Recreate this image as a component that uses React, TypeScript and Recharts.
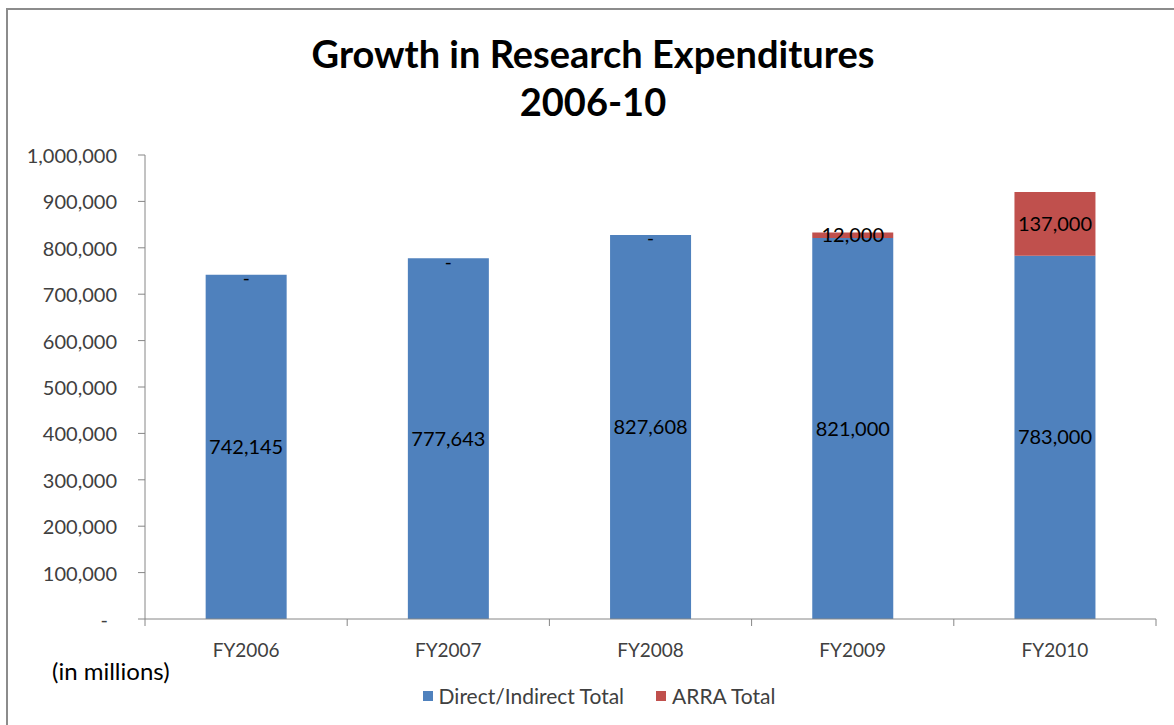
import { BarChart, Bar, XAxis, YAxis, LabelList } from 'recharts';

const years = ['FY2006', 'FY2007', 'FY2008', 'FY2009', 'FY2010'];
const directIndirect = [742145, 777643, 827608, 821000, 783000];
const arra = [0, 0, 0, 12000, 137000];
const yTicks = [0, 100000, 200000, 300000, 400000, 500000, 600000, 700000, 800000, 900000, 1000000];

const data = years.map((year, i) => ({
  year,
  direct: directIndirect[i],
  arra: arra[i],
}));

const FONT = 'Lato, "Open Sans", sans-serif';
const AXIS_COLOR = '#868686';
const TEXT_COLOR = '#404040';
const BAND = (1156 - 145) / years.length;

const fmt = (v: number) => (v === 0 ? '-' : v.toLocaleString('en-US'));

function YTick({ x, y, payload }: any) {
  const v = payload.value as number;
  return (
    <text
      x={v === 0 ? x - 9 : x}
      y={y}
      textAnchor="end"
      dominantBaseline="central"
      fill={TEXT_COLOR}
      fontSize={20}
      fontFamily={FONT}
    >
      {fmt(v)}
    </text>
  );
}

function XTick({ x, y, payload, index }: any) {
  const left = x - BAND / 2;
  const right = x + BAND / 2;
  return (
    <g>
      <line x1={left} y1={y} x2={left} y2={y + 7} stroke={AXIS_COLOR} />
      {index === years.length - 1 && (
        <line x1={right} y1={y} x2={right} y2={y + 7} stroke={AXIS_COLOR} />
      )}
      <text
        x={x}
        y={y + 30}
        textAnchor="middle"
        dominantBaseline="central"
        fill={TEXT_COLOR}
        fontSize={19}
        fontFamily={FONT}
      >
        {payload.value}
      </text>
    </g>
  );
}

// ARRA zero values show as "-" just under the top of the blue bar
function ZeroDash({ x, y, width, value }: any) {
  if (Number(value) !== 0) return null;
  return (
    <text
      x={x + width / 2}
      y={y + 3}
      textAnchor="middle"
      dominantBaseline="central"
      fill="#000"
      fontSize={19}
      fontFamily={FONT}
    >
      -
    </text>
  );
}

export default function App() {
  return (
    <div
      style={{
        position: 'absolute',
        left: 0,
        top: 0,
        width: 1174,
        height: 725,
        background: '#fff',
        fontFamily: FONT,
        overflow: 'hidden',
      }}
    >
      <div
        style={{
          position: 'absolute',
          left: 6,
          top: 8,
          width: 1200,
          height: 740,
          borderLeft: '2px solid #8c8c8c',
          borderTop: '2px solid #8c8c8c',
        }}
      />
      <div
        style={{
          position: 'absolute',
          left: 6,
          top: 29,
          width: 1174,
          textAlign: 'center',
          fontWeight: 700,
          fontSize: 38,
          lineHeight: '48px',
          color: '#000',
        }}
      >
        Growth in Research Expenditures
        <br />
        2006-10
      </div>

      <div style={{ position: 'absolute', left: 0, top: 0 }}>
        <BarChart
          width={1174}
          height={725}
          data={data}
          margin={{ top: 155, right: 18, bottom: 66, left: 0 }}
          barCategoryGap="30%"
        >
          <XAxis
            dataKey="year"
            stroke={AXIS_COLOR}
            tickLine={false}
            tickSize={0}
            tickMargin={0}
            tick={<XTick />}
            interval={0}
            height={40}
          />
          <YAxis
            width={145}
            domain={[0, 1000000]}
            ticks={yTicks}
            stroke={AXIS_COLOR}
            tickSize={7}
            tickMargin={21}
            tick={<YTick />}
            interval={0}
          />
          <Bar dataKey="direct" stackId="a" fill="#4F81BD" isAnimationActive={false}>
            <LabelList
              dataKey="direct"
              position="center"
              formatter={(v: any) => fmt(Number(v))}
              fill="#000"
              fontSize={20}
              fontFamily={FONT}
            />
            <LabelList dataKey="arra" content={<ZeroDash />} />
          </Bar>
          <Bar dataKey="arra" stackId="a" fill="#C0504D" isAnimationActive={false}>
            <LabelList
              dataKey="arra"
              position="center"
              formatter={(v: any) => (Number(v) === 0 ? '' : fmt(Number(v)))}
              fill="#000"
              fontSize={20}
              fontFamily={FONT}
            />
          </Bar>
        </BarChart>
      </div>

      <div
        style={{
          position: 'absolute',
          left: 52,
          top: 656,
          fontSize: 24,
          lineHeight: '30px',
          color: '#000',
        }}
      >
        (in millions)
      </div>

      <div
        style={{
          position: 'absolute',
          left: 0,
          top: 682,
          width: 1174,
          display: 'flex',
          justifyContent: 'center',
          paddingLeft: 24,
          boxSizing: 'border-box',
          fontSize: 21,
          color: TEXT_COLOR,
          lineHeight: '28px',
        }}
      >
        <span style={{ display: 'flex', alignItems: 'center', marginRight: 32 }}>
          <span style={{ width: 10, height: 10, background: '#4F81BD', marginRight: 6 }} />
          Direct/Indirect Total
        </span>
        <span style={{ display: 'flex', alignItems: 'center' }}>
          <span style={{ width: 10, height: 10, background: '#C0504D', marginRight: 6 }} />
          ARRA Total
        </span>
      </div>
    </div>
  );
}
